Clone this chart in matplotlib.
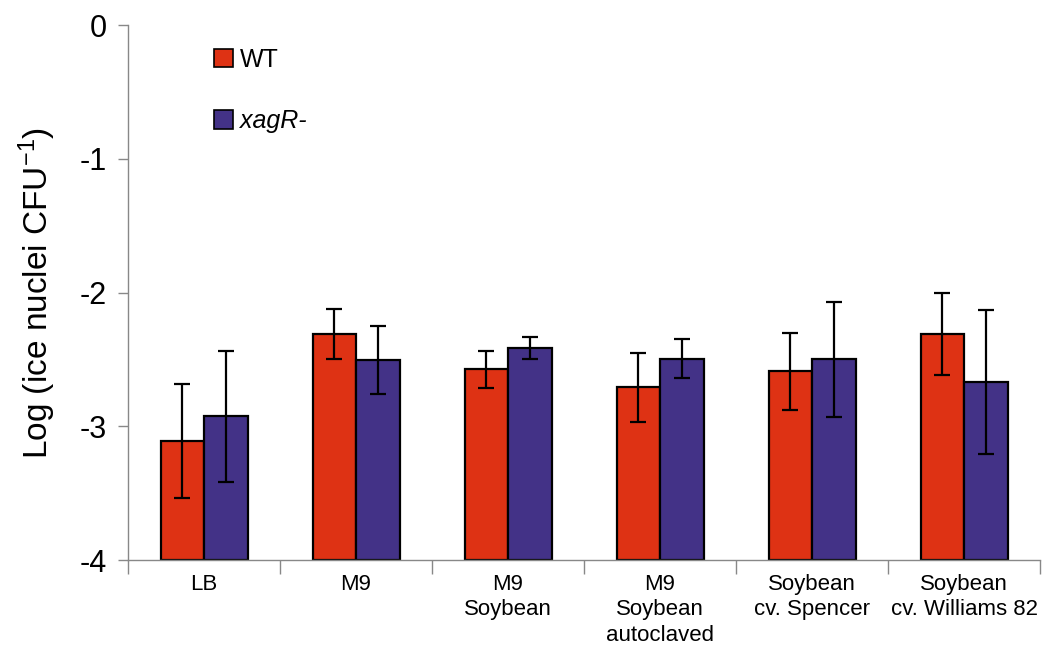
import matplotlib
matplotlib.use("Agg")
import matplotlib.pyplot as plt
import numpy as np
from matplotlib.patches import Patch

categories = ["LB", "M9", "M9\nSoybean", "M9\nSoybean\nautoclaved",
              "Soybean\ncv. Spencer", "Soybean\ncv. Williams 82"]
wt_values = [-3.11, -2.31, -2.575, -2.71, -2.59, -2.31]
wt_err = [0.425, 0.19, 0.14, 0.255, 0.29, 0.31]
xagr_values = [-2.925, -2.507, -2.415, -2.495, -2.50, -2.67]
xagr_err = [0.49, 0.255, 0.08, 0.146, 0.43, 0.537]
y_ticks = [0, -1, -2, -3, -4]

plt.rcParams['font.family'] = ['Liberation Sans', 'DejaVu Sans']

fig = plt.figure(figsize=(10.46, 6.53), dpi=100)
ax = fig.add_axes([0.1224, 0.1424, 0.8719, 0.8193])

red = "#DE3214"
purple = "#433287"
x = np.arange(len(categories))
w = 0.286
base = -4
ax.bar(x - w/2, np.array(wt_values) - base, w, bottom=base, color=red,
       edgecolor="black", linewidth=1.6, zorder=2)
ax.bar(x + w/2, np.array(xagr_values) - base, w, bottom=base, color=purple,
       edgecolor="black", linewidth=1.6, zorder=2)
ax.errorbar(x - w/2, wt_values, yerr=wt_err, fmt="none", ecolor="black",
            elinewidth=1.6, capsize=5.8, capthick=1.6, zorder=3)
ax.errorbar(x + w/2, xagr_values, yerr=xagr_err, fmt="none", ecolor="black",
            elinewidth=1.6, capsize=5.8, capthick=1.6, zorder=3)

ax.set_xlim(-0.5, len(categories) - 0.5)
ax.set_ylim(-4, 0)
ax.set_yticks(y_ticks)
ax.set_yticklabels([str(t) for t in y_ticks], fontsize=22)
ax.tick_params(axis="y", direction="out", length=7, width=1, color="#888888", pad=8)

ax.set_xticks(x)
ax.set_xticklabels(categories, fontsize=16, va="top", linespacing=1.27)
ax.tick_params(axis="x", length=0, pad=10)
ax.set_xticks(np.arange(0, len(categories) + 1) - 0.5, minor=True)
ax.tick_params(axis="x", which="minor", direction="out", length=10, width=1, color="#888888")

for s in ["top", "right"]:
    ax.spines[s].set_visible(False)
for s in ["left", "bottom"]:
    ax.spines[s].set_color("#888888")
    ax.spines[s].set_linewidth(1)

ax.set_ylabel(r"Log (ice nuclei CFU$\mathregular{^{-1}}$)", fontsize=24, labelpad=16)

handles = [Patch(facecolor=red, edgecolor="black", linewidth=1.2),
           Patch(facecolor=purple, edgecolor="black", linewidth=1.2)]
leg = ax.legend(handles, ["WT", "xagR-"], loc="upper left",
                bbox_to_anchor=(0.075, 0.99), frameon=False, fontsize=18,
                handlelength=0.75, handleheight=0.75, handletextpad=0.3,
                labelspacing=1.5, borderaxespad=0.3)
leg.get_texts()[1].set_fontstyle("italic")

fig.savefig("out.png", dpi=100)
